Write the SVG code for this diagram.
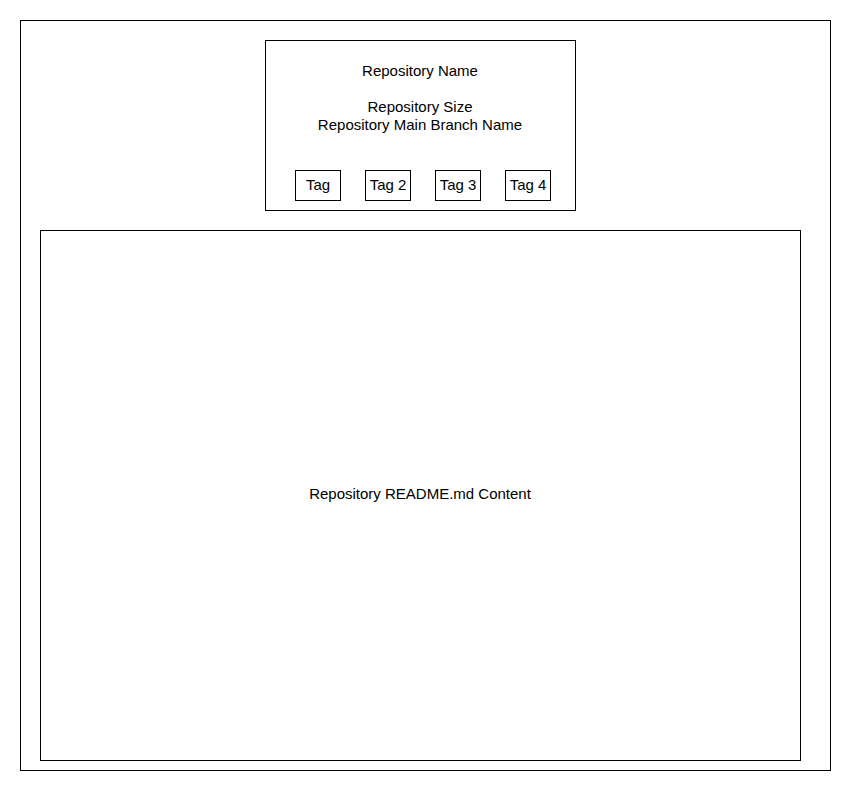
<svg xmlns="http://www.w3.org/2000/svg" width="851" height="791" viewBox="0 0 851 791">
<style>
rect{fill:#fff;stroke:#000;stroke-width:1}
text{font-family:"Liberation Sans",Arial,sans-serif;font-size:15px;fill:#000;text-anchor:middle}
</style>
<rect x="0" y="0" width="851" height="791" style="stroke:none"/>
<g id="outer"><rect x="20.5" y="20.5" width="810" height="750"/></g>
<g id="header">
<rect x="265.5" y="40.5" width="310" height="170"/>
<text x="420" y="76">Repository Name</text>
<text x="420" y="112">Repository Size</text>
<text x="420" y="130">Repository Main Branch Name</text>
</g>
<g id="tag1"><rect x="295.5" y="170.5" width="45" height="30"/><text x="318" y="190">Tag</text></g>
<g id="tag2"><rect x="365.5" y="170.5" width="45" height="30"/><text x="388" y="190">Tag 2</text></g>
<g id="tag3"><rect x="435.5" y="170.5" width="45" height="30"/><text x="458" y="190">Tag 3</text></g>
<g id="tag4"><rect x="505.5" y="170.5" width="45" height="30"/><text x="528" y="190">Tag 4</text></g>
<g id="readme">
<rect x="40.5" y="230.5" width="760" height="530"/>
<text x="420" y="499">Repository README.md Content</text>
</g>
<g id="connectors"/>
</svg>
